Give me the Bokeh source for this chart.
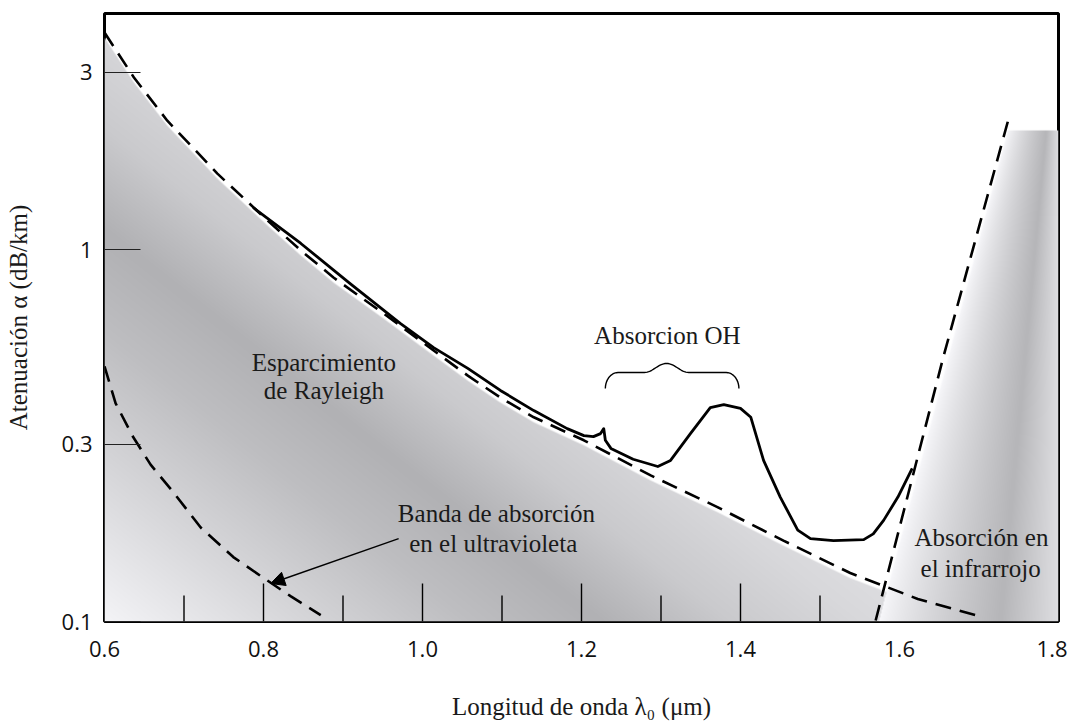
import numpy as np
from bokeh.plotting import figure
from bokeh.models import FixedTicker, NumeralTickFormatter, Arrow, NormalHead
from bokeh.core.properties import value
from bokeh.embed import file_html
from bokeh.resources import INLINE

# ---------------- data ----------------
# Rayleigh scattering (dashed)
rayleigh_x = [0.600, 0.637, 0.679, 0.742, 0.805, 0.847, 0.888, 0.951, 1.014, 1.057,
              1.098, 1.140, 1.203, 1.287, 1.371, 1.454, 1.538, 1.623, 1.696]
rayleigh_y = [3.83, 2.90, 2.22, 1.60, 1.197, 0.994, 0.841, 0.673, 0.535, 0.458,
              0.400, 0.354, 0.307, 0.247, 0.203, 0.165, 0.135, 0.115, 0.104]
# measured attenuation (solid)
measured_x = [0.787, 0.847, 0.909, 0.972, 1.014, 1.057, 1.098, 1.140, 1.182, 1.203,
              1.215, 1.224, 1.228, 1.230, 1.237, 1.265, 1.296, 1.312, 1.337, 1.362,
              1.379, 1.400, 1.413, 1.429, 1.450, 1.472, 1.488, 1.517, 1.555, 1.567,
              1.580, 1.598, 1.616]
measured_y = [1.297, 1.038, 0.810, 0.633, 0.545, 0.479, 0.418, 0.369, 0.330, 0.316,
              0.314, 0.320, 0.330, 0.307, 0.292, 0.273, 0.261, 0.271, 0.320, 0.376,
              0.383, 0.374, 0.354, 0.271, 0.216, 0.176, 0.167, 0.165, 0.166, 0.172,
              0.187, 0.216, 0.258]
# ultraviolet absorption (dashed)
uv_x = [0.600, 0.614, 0.635, 0.658, 0.687, 0.721, 0.762, 0.800, 0.834, 0.872]
uv_y = [0.485, 0.386, 0.316, 0.264, 0.222, 0.179, 0.149, 0.131, 0.117, 0.104]
# infrared absorption (dashed)
ir_x = [1.570, 1.655, 1.738]
ir_y = [0.1006, 0.5125, 2.278]
# shaded infrared region boundary
ir_band_edge_x = [1.574, 1.736]
ir_band_edge_y = [0.100, 2.09]
# OH absorption bracket (left end, centre, right end) and its levels
oh_span_x = [1.230, 1.307, 1.398]
oh_span_y = [0.423, 0.467, 0.494]

# ticks
x_ticks = [0.6, 0.8, 1.0, 1.2, 1.4, 1.6, 1.8]
x_marks_major = [0.8, 1.0, 1.2, 1.4]
x_marks_minor = [0.7, 0.9, 1.1, 1.3, 1.5]
y_ticks = [0.1, 0.3, 1, 3]
y_tick_labels = ["0.1", "0.3", "1", "3"]

# annotation texts
note_text = ["Esparcimiento", "de Rayleigh", "Absorcion OH", "Banda de absorción",
             "en el ultravioleta", "Absorción en", "el infrarrojo"]
note_x = [0.876, 0.876, 1.308, 1.093, 1.089, 1.703, 1.702]
note_y = [0.497, 0.418, 0.587, 0.195, 0.162, 0.168, 0.139]
arrow_from = (0.970, 0.167)
arrow_to = (0.809, 0.1265)

X0, X1 = 0.6, 1.8
Y0, Y1 = 0.1, 4.31

SERIF = "Liberation Serif"
SANS = "Open Sans"

p = figure(width=1067, height=723, x_range=(X0, X1), y_range=(Y0, Y1),
           y_axis_type="log", output_backend="svg", toolbar_location=None,
           min_border_left=104, min_border_right=9, min_border_top=13,
           min_border_bottom=102, background_fill_color="white",
           border_fill_color="white")
p.outline_line_color = "black"
p.outline_line_width = 3
p.xgrid.visible = False
p.ygrid.visible = False

# ---------------- shaded regions (gradient image, masked by the curves) ----------------
W, H = 954, 608
LY0, LY1 = np.log10(Y0), np.log10(Y1)
PX, PY = np.meshgrid(np.arange(W) + 0.5, np.arange(H) + 0.5)
xs = X0 + PX / W * (X1 - X0)
Ls = LY0 + PY / H * (LY1 - LY0)
dL = (LY1 - LY0) / H
dx = (X1 - X0) / W

ray_L = np.interp(xs, rayleigh_x, np.log10(rayleigh_y))
a_ray = np.clip((ray_L - 5 * dL - Ls) / dL + 0.5, 0, 1)
eL0, eL1 = np.log10(ir_band_edge_y)
edge_x = ir_band_edge_x[0] + (Ls - eL0) / (eL1 - eL0) * (ir_band_edge_x[1] - ir_band_edge_x[0])
a_edge = np.clip((xs - edge_x) / dx + 0.5, 0, 1)
a_top = np.clip((eL1 - Ls) / dL + 0.5, 0, 1)

# Rayleigh region: diagonal gradient (dark band from upper left to lower right)
s = 0.619 * PX + 0.785 * (PY - 391)
g_ray = np.interp(s, [-320, -200, -80, 0, 80, 160, 300],
                  [247, 218, 190, 177, 202, 216, 232])
# infrared region: light at its edge, darker band, lighter at the frame
px_e = (edge_x - X0) / (X1 - X0) * W
px_b = 896 + PY * (45 / 481)
t_l = np.clip((PX - px_e) / np.maximum(px_b - px_e, 1), 0, 1)
t_r = np.clip((PX - px_b) / np.maximum(W - px_b, 1), 0, 1)
g_ir = np.where(PX < px_b, 248 - 66 * t_l ** 0.8, 182 + 40 * t_r)

w_ray = a_ray * (1 - a_edge)
w_ir = a_edge * a_top
alpha = np.clip(w_ray + w_ir, 0, 1)
g = np.where(w_ir > w_ray, g_ir, g_ray)
img = np.zeros((H, W, 4), dtype=np.uint8)
img[..., 0] = np.clip(g, 0, 255)
img[..., 1] = np.clip(g, 0, 255)
img[..., 2] = np.clip(g + 3, 0, 255)
img[..., 3] = (alpha * 255).astype(np.uint8)
img32 = img.view(np.uint32).reshape(H, W)
p.image_rgba(image=[img32], x=X0, y=Y0, dw=X1 - X0, dh=Y1 - Y0)

# ---------------- curves ----------------
DASH = "16 9"
p.line(uv_x, uv_y, line_color="black", line_width=2.6, line_dash=DASH)
p.line(rayleigh_x, rayleigh_y, line_color="black", line_width=2.6, line_dash=DASH)
p.line(ir_x, ir_y, line_color="black", line_width=2.6, line_dash=DASH)
p.line(measured_x, measured_y, line_color="black", line_width=2.8, line_join="round")

# OH bracket built from the span
xl, xc, xr = oh_span_x
ye, yf, yp = np.log10(oh_span_y)
c1, c2 = 0.016, 0.028
th = np.linspace(0, np.pi / 2, 12)
tt = np.linspace(0, 1, 16)
bx = np.concatenate([
    xl + c1 - c1 * np.cos(th),
    np.linspace(xl + c1, xc - c2, 4),
    xc - c2 + c2 * tt,
    xc + c2 * tt,
    np.linspace(xc + c2, xr - c1, 4),
    xr - c1 + c1 * np.sin(th),
])
bL = np.concatenate([
    ye + (yf - ye) * np.sin(th),
    np.full(4, yf),
    yf + (yp - yf) * (1 - np.cos(np.pi * tt)) / 2,
    yp + (yf - yp) * (1 - np.cos(np.pi * tt)) / 2,
    np.full(4, yf),
    yf + (ye - yf) * (1 - np.cos(th)),
])
p.line(bx, 10 ** bL, line_color="black", line_width=1.4)

# ---------------- inner tick marks on the x axis ----------------
p.ray(x=x_marks_major, y=[Y0] * len(x_marks_major), length=38, angle=np.pi / 2,
      length_units="screen", line_color="black", line_width=1.4)
p.ray(x=x_marks_minor, y=[Y0] * len(x_marks_minor), length=26, angle=np.pi / 2,
      length_units="screen", line_color="black", line_width=1.4)

# ---------------- notes ----------------
p.text(x=note_x, y=note_y, text=note_text, text_font=value(SERIF),
       text_font_size="25px", text_align="center", text_baseline="middle",
       text_color="#1a1a1a")
p.add_layout(Arrow(end=NormalHead(size=14, fill_color="black", line_color="black"),
                   x_start=arrow_from[0], y_start=arrow_from[1],
                   x_end=arrow_to[0], y_end=arrow_to[1],
                   line_color="black", line_width=1.4))

# ---------------- axes ----------------
xax = p.xaxis[0]
xax.ticker = FixedTicker(ticks=x_ticks, minor_ticks=[])
xax.formatter = NumeralTickFormatter(format="0.0")
xax.axis_line_color = None
xax.major_tick_line_color = None
xax.minor_tick_line_color = None
xax.major_tick_out = 0
xax.major_label_standoff = 19
xax.major_label_text_font = SANS
xax.major_label_text_font_size = "22px"
xax.major_label_text_color = "#111111"
xax.axis_label = "Longitud de onda λ₀ (μm)"
xax.axis_label_text_font = SERIF
xax.axis_label_text_font_style = "normal"
xax.axis_label_text_font_size = "25px"
xax.axis_label_text_color = "#1a1a1a"
xax.axis_label_standoff = 33

yax = p.yaxis[0]
yax.ticker = FixedTicker(ticks=y_ticks, minor_ticks=[])
yax.major_label_overrides = {t: l for t, l in zip(y_ticks, y_tick_labels)}
yax.axis_line_color = None
yax.major_tick_in = 36
yax.major_tick_out = 0
yax.major_tick_line_color = "#222222"
yax.major_tick_line_width = 1.2
yax.minor_tick_line_color = None
yax.major_label_standoff = 12
yax.major_label_text_font = SANS
yax.major_label_text_font_size = "22px"
yax.major_label_text_color = "#111111"
yax.axis_label = "Atenuación α (dB/km)"
yax.axis_label_text_font = SERIF
yax.axis_label_text_font_style = "normal"
yax.axis_label_text_font_size = "25px"
yax.axis_label_text_color = "#1a1a1a"
yax.axis_label_standoff = 27

open("out.html", "w").write(file_html(p, INLINE))
